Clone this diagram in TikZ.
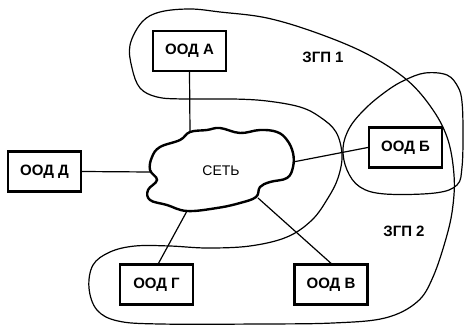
\documentclass[tikz,border=0pt]{standalone}
\usepackage{fontspec}
\setmainfont{Liberation Sans}
\begin{document}
\begin{tikzpicture}[x=1pt,y=-1pt,
  box/.style={draw,line width=2.4pt,minimum width=73pt,minimum height=40pt,inner sep=0pt,
    font=\fontsize{15}{17}\selectfont\bfseries},
  lbl/.style={font=\fontsize{15}{17}\selectfont\bfseries},
  link/.style={line width=1.2pt},
  zone/.style={line width=1.2pt,smooth cycle,tension=0.6},
  cloudline/.style={line width=2.4pt,smooth cycle,tension=0.65}]
\useasboundingbox (0,0) rectangle (465,326);
% boxes
\node[box] (A) at (189.5,51) {ООД А};
\node[box] (D) at (44.5,171.5) {ООД Д};
\node[box] (B) at (405.5,147.5) {ООД Б};
\node[box] (G) at (156.5,284.5) {ООД Г};
\node[box] (V) at (331,284.5) {ООД В};
% cloud
\draw[cloudline] plot coordinates {(190,132) (180,140) (160,147) (152,157) (150,170) (157,180) (148,190) (150,200) (167,205) (187,211) (217,208) (240,203) (256,197) (260,187) (270,182) (287,178) (293,167) (293,153) (287,140) (277,132) (260,130) (240,133) (220,128) (207,130)};
\node[font=\fontsize{14}{16}\selectfont] (net) at (221,171) {СЕТЬ};
\coordinate (cA) at (190,132);
\coordinate (cD) at (150,172);
\coordinate (cB) at (293,162);
\coordinate (cG) at (187,211);
\coordinate (cV) at (258,198);
% connectors
\draw[link] (A.south) -- (cA);
\draw[link] (D.east) -- (cD);
\draw[link] (cB) -- (B.west);
\draw[link] (cG) -- ([xshift=2pt]G.north);
\draw[link] (cV) -- (V.north);
% zones
\draw[zone] plot coordinates {(130,45) (142,22) (160,12) (190,9) (220,12) (267,18) (317,33) (367,54) (407,80) (433,110) (448,140) (454,175) (453,205) (447,235) (433,277) (417,302) (385,318) (333,323) (260,324) (160,324) (118,321) (97,310) (89,288) (93,265) (110,252) (135,246) (170,246) (207,248) (250,246) (287,237) (312,220) (328,198) (338,178) (342,155) (336,132) (320,117) (300,107) (267,101) (233,99) (183,99) (157,97) (140,88) (132,68)};
\draw[zone] plot coordinates {(405,80) (425,73) (447,75) (458,87) (462,102) (463,133) (462,167) (457,185) (435,193) (385,194) (360,187) (347,170) (343,148) (350,127) (367,107) (388,90)};
% labels
\node[lbl] (z1) at (323,57) {ЗГП 1};
\node[lbl] (z2) at (404,231) {ЗГП 2};
\end{tikzpicture}
\end{document}
